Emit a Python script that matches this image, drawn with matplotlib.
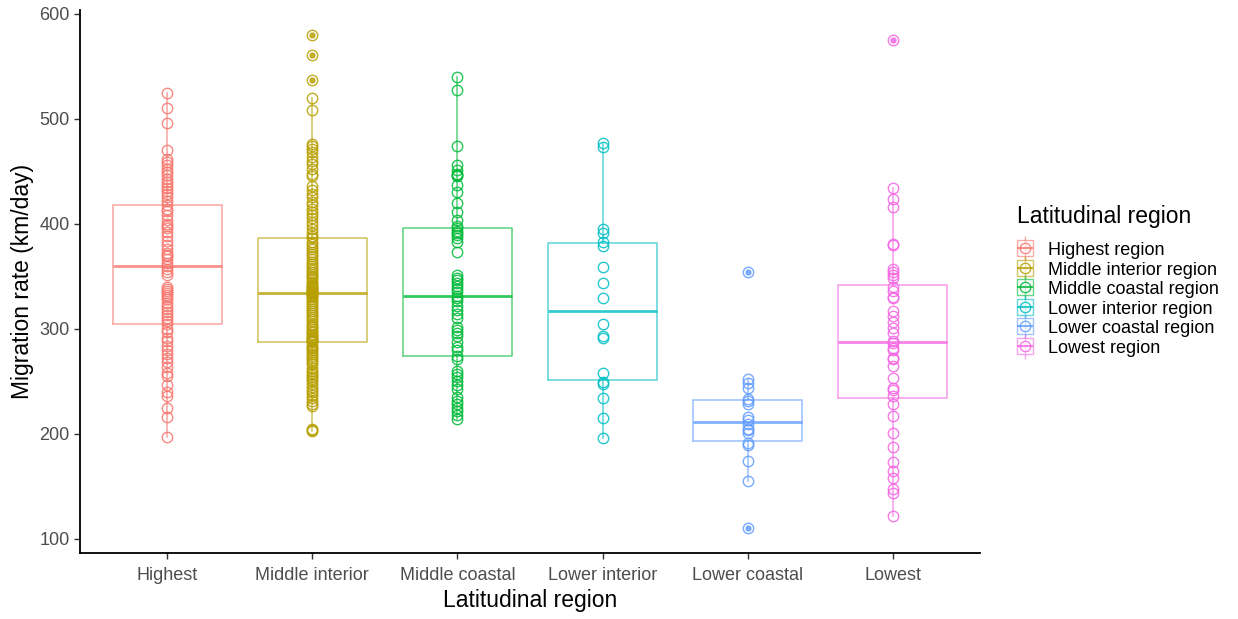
import numpy as np
import matplotlib
matplotlib.use("Agg")
import matplotlib.pyplot as plt
from matplotlib.lines import Line2D
from matplotlib.legend_handler import HandlerTuple

plt.rcParams['font.family'] = ['Liberation Sans', 'DejaVu Sans']

categories = ['Highest', 'Middle interior', 'Middle coastal',
              'Lower interior', 'Lower coastal', 'Lowest']
legend_labels = ['Highest region', 'Middle interior region', 'Middle coastal region',
                 'Lower interior region', 'Lower coastal region', 'Lowest region']
colors = ['#F8766D', '#B79F00', '#00BA38', '#00BFC4', '#619CFF', '#F564E3']

# migration rates (km/day)
highest = [524, 510, 496, 470, 462, 459, 456, 452, 449, 446, 443, 440, 437, 434, 431, 428, 425, 422,
           418, 414, 412, 408, 404, 400, 398, 396, 392, 388, 384, 380, 376, 372, 370, 369, 366, 363,
           360,
           357, 354, 351, 340, 338, 336, 334, 332, 330, 328, 325, 322, 319, 316, 313, 310, 307, 305,
           300, 297, 291, 288, 284, 280, 276, 272, 268, 264, 258, 255, 246, 240, 236, 225, 216, 197]

middle_interior = [580, 561, 537, 520, 508, 476, 474, 471, 468, 464, 460, 457, 452, 447, 445,
                   436, 432, 428, 425, 421, 418, 414, 411, 408, 405, 402, 399, 395, 391, 388,
                   386, 383, 381, 378, 376, 373, 371, 369, 366, 364, 362, 360, 358, 356, 354,
                   352, 350, 349, 347, 345, 344, 342, 341, 340, 339, 338, 337, 336, 335, 335,
                   334,
                   333, 332, 331, 330, 328, 326, 325, 323, 321, 319, 317, 315, 313, 311, 309,
                   307, 305, 303, 302, 300, 298, 297, 295, 294, 292, 291, 290, 289, 288, 287,
                   285, 283, 282, 280, 278, 276, 274, 272, 270, 268, 266, 263, 260, 258, 256,
                   254, 252, 250, 247, 245, 242, 240, 237, 234, 231, 228, 226, 205, 204, 203]

middle_coastal = [540, 527, 474, 456, 451, 447, 446, 445, 437, 430, 420, 411, 404, 398,
                  396, 393, 391, 389, 386, 383, 373, 351, 348, 346, 344, 341, 338, 335,
                  331,
                  329, 326, 322, 318, 314, 310, 302, 299, 296, 293, 287, 283, 280, 274,
                  271, 260, 257, 254, 250, 246, 243, 235, 231, 228, 225, 222, 218, 214]

lower_interior = [477, 473, 395, 391, 383, 379, 359, 344, 329, 305, 293, 291,
                  258, 249, 247, 234, 215, 196]

lower_coastal = [354, 252, 248, 244, 233, 231, 228, 216, 213, 209, 205, 204, 201,
                 191, 189, 174, 155, 110]

lowest = [575, 434, 424, 416, 381, 380, 357, 354, 351, 348,
          340, 336, 330, 329, 317, 312, 306, 301, 296, 288,
          286, 282, 280, 272, 271, 265, 253, 244, 242, 236,
          228, 217, 201, 187, 173, 165, 158, 147, 144, 122]

groups = [highest, middle_interior, middle_coastal, lower_interior, lower_coastal, lowest]

fig = plt.figure(figsize=(12.38, 6.19), dpi=100)
ax = fig.add_axes([80 / 1238, 66 / 619, 900 / 1238, 543 / 619])

positions = np.arange(1, len(groups) + 1)
for pos, vals, c in zip(positions, groups, colors):
    ax.boxplot(vals, positions=[pos], widths=0.75, whis=1.5,
               boxprops=dict(color=c, lw=1.2, alpha=0.6),
               whiskerprops=dict(color=c, lw=1.2, alpha=0.6),
               capprops=dict(visible=False),
               medianprops=dict(color=c, lw=2.0, alpha=0.8),
               flierprops=dict(marker='o', markersize=3.5, markerfacecolor=c,
                               markeredgecolor=c, alpha=0.8),
               manage_ticks=False)
    ax.plot(np.full(len(vals), pos), vals, ls='none', marker='o', ms=7.5,
            mfc='none', mec=c, mew=1.0, alpha=0.85)

ax.set_xlim(0.4, 6.6)
ax.set_ylim(86.5, 603.5)
ax.set_xticks(positions)
ax.set_xticklabels(categories)
ax.set_yticks([100, 200, 300, 400, 500, 600])
ax.tick_params(labelsize=13, colors='#333333', labelcolor='#4D4D4D', length=4, width=1)
ax.tick_params(axis='x', pad=6)
for s in ['top', 'right']:
    ax.spines[s].set_visible(False)
for s in ['left', 'bottom']:
    ax.spines[s].set_linewidth(1.3)
    ax.spines[s].set_color('black')
ax.set_xlabel('Latitudinal region', fontsize=16.5, labelpad=4)
ax.set_ylabel('Migration rate (km/day)', fontsize=16.5, labelpad=4)

handles = []
for c in colors:
    whisk = Line2D([], [], ls='none', marker='|', ms=18, mec=c, mew=1.0, alpha=0.6)
    box = Line2D([], [], ls='none', marker='s', ms=12, mfc='white', mec=c, mew=1.0, alpha=0.6)
    med = Line2D([], [], ls='none', marker='_', ms=12, mec=c, mew=1.5, alpha=0.8)
    pt = Line2D([], [], ls='none', marker='o', ms=7.5, mfc='none', mec=c, mew=1.0, alpha=0.85)
    handles.append((whisk, box, med, pt))

fig.text(1017 / 1238, 1 - 217 / 619, 'Latitudinal region', fontsize=16.5,
         ha='left', va='center')
fig.legend(handles, legend_labels, handler_map={tuple: HandlerTuple(ndivide=1, pad=0)},
           loc='upper left', bbox_to_anchor=(1012 / 1238, 1 - 241 / 619), frameon=False,
           fontsize=13, handlelength=1.4, handleheight=1.0, handletextpad=0.6,
           labelspacing=0.07, borderaxespad=0, borderpad=0)

fig.savefig('out.png', dpi=100)
